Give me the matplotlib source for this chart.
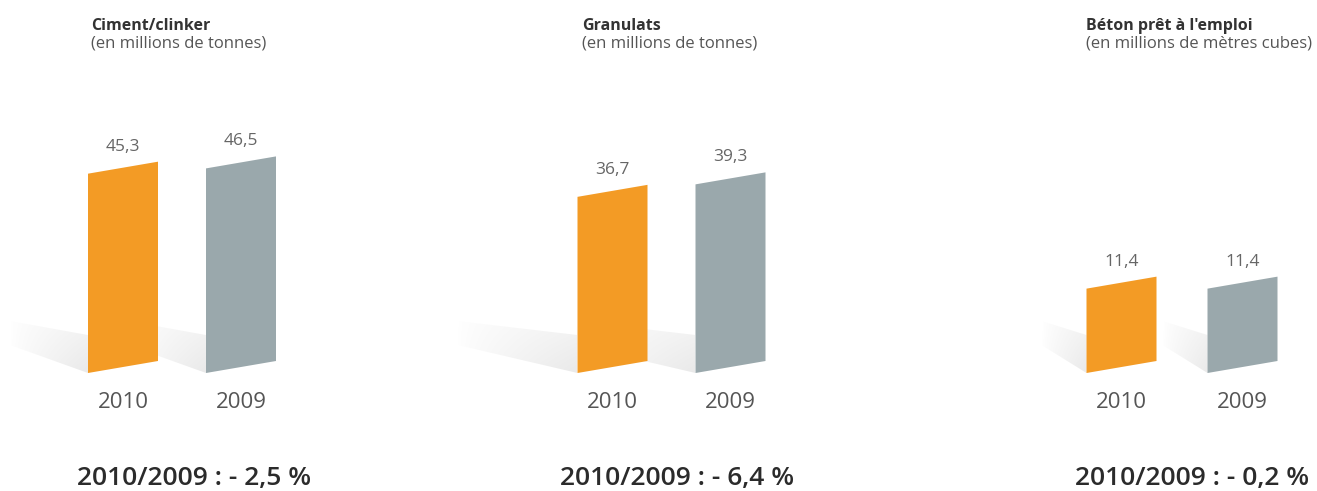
import numpy as np
import matplotlib.pyplot as plt
from matplotlib.patches import Polygon
from matplotlib.transforms import Affine2D

plt.rcParams['font.family'] = ['Open Sans', 'DejaVu Sans']

# données
titres = ['Ciment/clinker', 'Granulats', "Béton prêt à l'emploi"]
unites = ['(en millions de tonnes)', '(en millions de tonnes)',
          '(en millions de mètres cubes)']
annees = ['2010', '2009']
val_2010 = [45.3, 36.7, 11.4]
val_2009 = [46.5, 39.3, 11.4]
variations = [-2.5, -6.4, -0.2]

couleurs = ['#F39B25', '#9AA8AC']

# mise en page (pixels)
W, H = 1317, 491
base_px = 118            # ligne de base des barres depuis le bas
haut_ax = 260            # hauteur des axes
centre_px = [123, 612.5, 1121.5]   # centre de la barre 2010
pas_px = [118, 118, 121]           # écart entre les deux barres
echelle = [4.4, 4.8, 7.4]          # pixels par unité
ombre_px = [78, 120, 45]           # longueur de l'ombre
titre_x = [91, 582, 1086]
var_x = [194, 677, 1192]
pente = 12 / 70
larg_px = 70


def fmt(v):
    return f'{v:.1f}'.replace('.', ',')


fig = plt.figure(figsize=(W / 100, H / 100), dpi=100)

for p in range(3):
    step = pas_px[p]
    sc = echelle[p]
    ax = fig.add_axes([(centre_px[p] - 1.45 * step) / W, base_px / H,
                       3 * step / W, haut_ax / H])
    ax.axis('off')
    bw = larg_px / step
    k = pente * step / sc

    valeurs = [val_2010[p], val_2009[p]]
    for i, v in enumerate(valeurs):
        x = i
        xl = x - bw / 2
        skew = (Affine2D().translate(-xl, 0).skew(0, np.arctan(k))
                .translate(xl, 0) + ax.transData)

        # ombre portée (dégradé)
        L = ombre_px[p] / step
        pts = np.array([[0, 0], [0, 38], [-ombre_px[p], 52], [-ombre_px[p], 28]], float)
        pts[:, 0] = xl + pts[:, 0] / step
        pts[:, 1] = pts[:, 1] / sc
        poly = Polygon(pts, closed=True, facecolor='none', edgecolor='none',
                       transform=ax.transData)
        ax.add_patch(poly)
        gx = np.linspace(0, 1, 80)
        gy = np.linspace(1, 0, 40)
        GX, GY = np.meshgrid(gx, gy)
        alpha = 0.30 * GX ** 0.7 * (1 - 0.5 * GY)
        img = np.zeros((40, 80, 4))
        img[..., :3] = 0.72
        img[..., 3] = alpha
        im = ax.imshow(img, extent=(xl - L, xl, 0, 52 / sc), aspect='auto',
                       interpolation='bilinear', zorder=1)
        im.set_clip_path(poly)

        bars = ax.bar(x, v, width=bw, color=couleurs[i], linewidth=0, zorder=3)
        bars[0].set_transform(skew)

        ax.annotate(fmt(v), xy=(x, v), xycoords=skew, xytext=(0, 21),
                    textcoords='offset pixels', ha='center', va='center',
                    fontsize=12.5, color='#666666')
        ax.annotate(annees[i], xy=(x, 0), xycoords='data', xytext=(0, -29),
                    textcoords='offset pixels', ha='center', va='center',
                    fontsize=16, color='#555555')

    ax.set_xlim(-1.45, 1.55)
    ax.set_ylim(0, haut_ax / sc)

    fig.text(titre_x[p] / W, 1 - 26 / H, titres[p], fontsize=11.5,
             fontweight='bold', color='#333333', va='center')
    fig.text(titre_x[p] / W, 1 - 43 / H, unites[p], fontsize=12,
             color='#555555', va='center')
    fig.text(var_x[p] / W, 1 - 478 / H,
             f'2010/2009 : - {fmt(abs(variations[p]))} %',
             fontsize=19, fontweight='semibold', color='#2b2b2b',
             ha='center', va='center')

fig.savefig('out.png', dpi=100)
